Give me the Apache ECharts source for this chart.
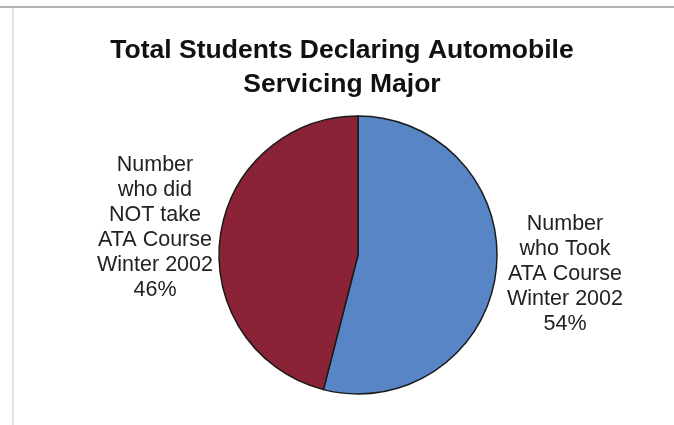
<!DOCTYPE html>
<html>
<head>
<meta charset="utf-8">
<script src="https://cdn.jsdelivr.net/npm/echarts@6/dist/echarts.min.js"></script>
<style>
  html, body { margin: 0; padding: 0; background: #fff; }
  #chart { width: 674px; height: 425px; }
</style>
</head>
<body>
<div id="chart"></div>
<script>
const titleText = 'Total Students Declaring Automobile\nServicing Major';
const categories = [
  'Number\nwho Took\nATA Course\nWinter 2002',
  'Number\nwho did\nNOT take\nATA Course\nWinter 2002'
];
const values = [54, 46];
const colors = ['#5785c6', '#8a2336'];

const labelPos = [
  { x: 565, y: 274 },
  { x: 155, y: 228 }
];

const chart = echarts.init(document.getElementById('chart'), null, { renderer: 'canvas' });
chart.setOption({
  backgroundColor: '#ffffff',
  animation: false,
  title: {
    text: titleText,
    left: 337,
    top: 29,
    textAlign: 'center',
    textStyle: {
      fontFamily: 'Liberation Sans, Arial, sans-serif',
      fontSize: 26.5,
      fontWeight: 'bold',
      lineHeight: 34,
      color: '#111'
    }
  },
  graphic: [
    { type: 'line', shape: { x1: 0, y1: 7, x2: 674, y2: 7 }, style: { stroke: '#9a9a9a', lineWidth: 1.5 } },
    { type: 'line', shape: { x1: 13, y1: 7, x2: 13, y2: 425 }, style: { stroke: '#c8c8c8', lineWidth: 1 } }
  ],
  series: [{
    type: 'pie',
    center: [358, 255],
    radius: 139,
    startAngle: 90,
    clockwise: true,
    data: categories.map((c, i) => ({ name: c, value: values[i], itemStyle: { color: colors[i] } })),
    itemStyle: { borderColor: '#1a1a1a', borderWidth: 1.5 },
    label: {
      show: true,
      position: 'outside',
      formatter: p => p.name + '\n' + p.percent + '%',
      fontFamily: 'Liberation Sans, Arial, sans-serif',
      fontSize: 21.5,
      lineHeight: 25,
      color: '#222',
      align: 'center'
    },
    labelLine: { show: false },
    labelLayout: params => ({
      x: labelPos[params.dataIndex].x,
      y: labelPos[params.dataIndex].y,
      align: 'center',
      verticalAlign: 'middle'
    }),
    emphasis: { disabled: true }
  }]
});
</script>
</body>
</html>
